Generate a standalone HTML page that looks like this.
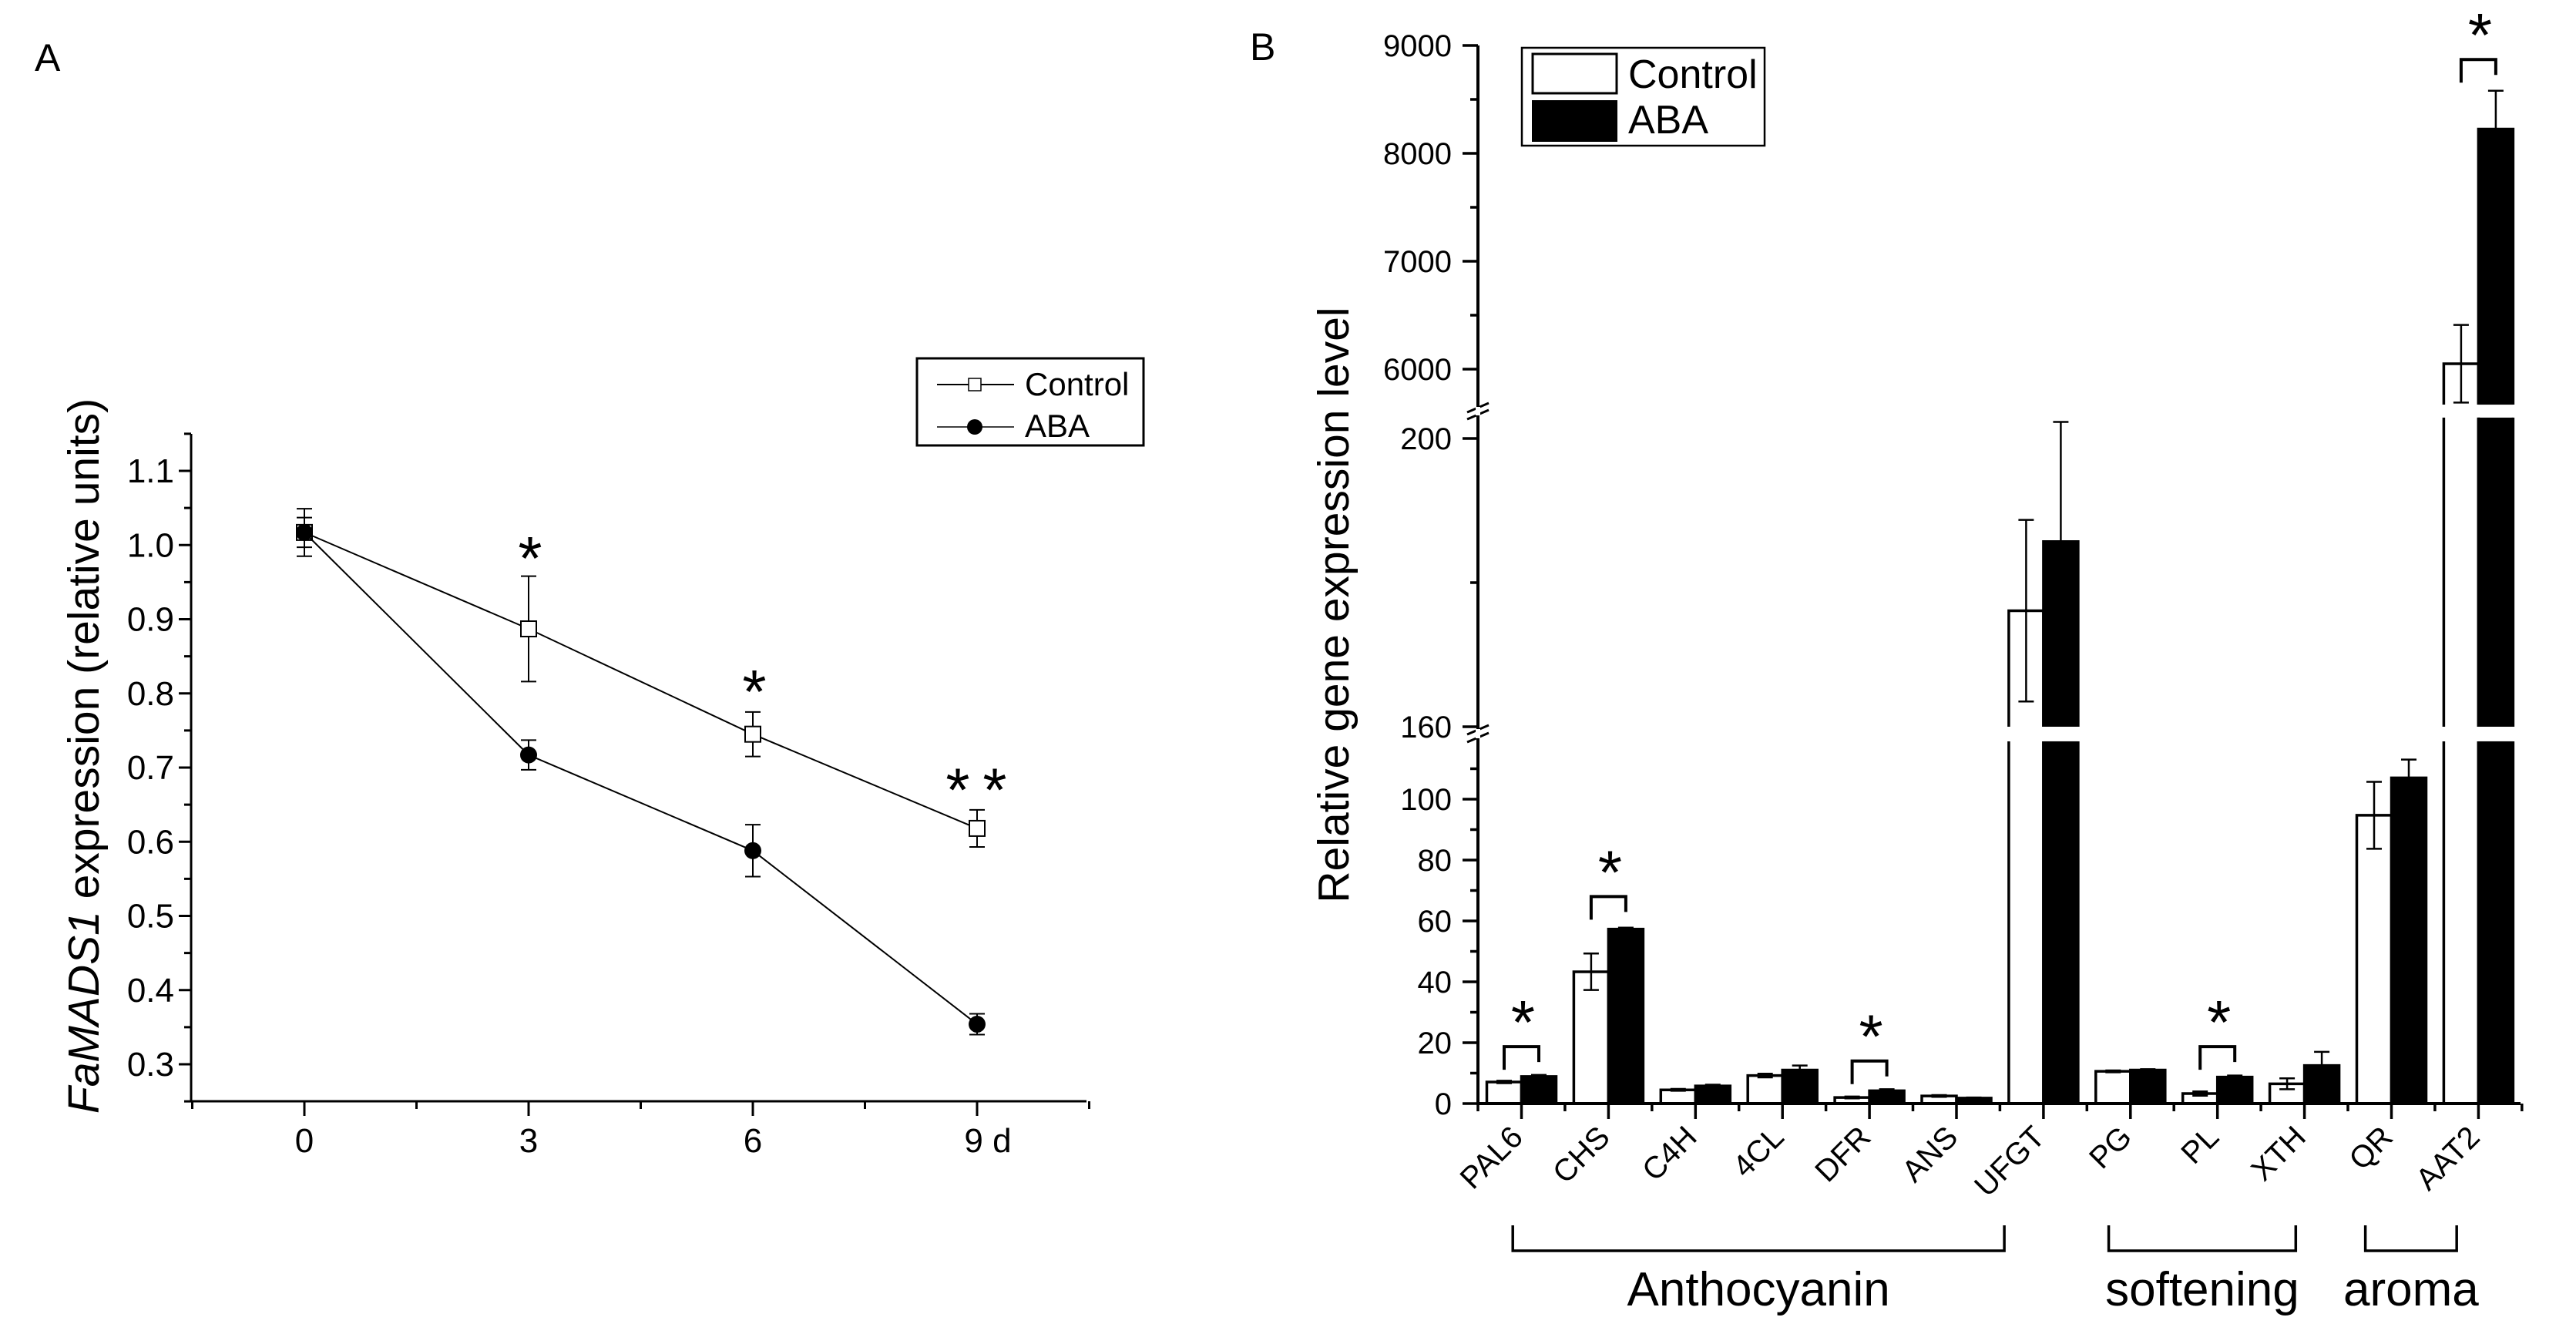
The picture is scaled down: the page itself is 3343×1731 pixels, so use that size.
<!DOCTYPE html>
<html><head><meta charset="utf-8"><style>
html,body{margin:0;padding:0;background:#fff;}
svg{display:block;font-family:"Liberation Sans",Arial,sans-serif;}
</style></head><body>
<svg id="fig" width="3343" height="1731" viewBox="0 0 3343 1731" xmlns="http://www.w3.org/2000/svg">
<rect width="3343" height="1731" fill="#fff"/>
<g id="pa"></g>
<g id="pb"></g>
</svg>
<script>
// ---------- Panel A data ----------
const daysA = [0, 3, 6, 9];
const dayLabelsA = ["0", "3", "6", "9 d"];
const controlA = [1.017, 0.887, 0.745, 0.618];
const controlErrA = [0.032, 0.071, 0.030, 0.025];
const abaA = [1.017, 0.717, 0.588, 0.354];
const abaErrA = [0.02, 0.02, 0.035, 0.014];
const yTicksA = [0.3, 0.4, 0.5, 0.6, 0.7, 0.8, 0.9, 1.0, 1.1];
const sigDaysA = [3, 6, 9];
const sigLevelA = [0.993, 0.813, 0.681];

// ---------- Panel B data ----------
const genesB = ["PAL6","CHS","C4H","4CL","DFR","ANS","UFGT","PG","PL","XTH","QR","AAT2"];
const controlB = [7.1, 43.3, 4.5, 9.2, 2.0, 2.5, 176.1, 10.6, 3.3, 6.5, 94.7, 6050];
const controlErrB = [0.4, 6, 0.3, 0.6, 0.3, 0.3, 12.6, 0.3, 0.7, 1.8, 11, 360];
const abaB = [8.9, 57.3, 5.8, 11.0, 4.2, 1.8, 185.7, 11.0, 8.7, 12.5, 107, 8225];
const abaErrB = [0.5, 0.5, 0.4, 1.5, 0.5, 0.2, 16.6, 0.3, 0.5, 4.5, 6, 355];
const sigGenesB = ["PAL6","CHS","DFR","PL","AAT2"];
const sigBracketB = [18.7, 68, 14, 18.7, 8870];
const yTicksLowB = [0, 20, 40, 60, 80, 100];
const yTicksMidB = [160, 200];
const yTicksHighB = [6000, 7000, 8000, 9000];
const groupNamesB = ["Anthocyanin", "softening", "aroma"];
const groupStartB = [-0.1, 6.75, 9.7];
const groupEndB = [5.55, 8.9, 10.75];

const NS = "http://www.w3.org/2000/svg";
function mk(parent, tag, attrs, text) {
  const e = document.createElementNS(NS, tag);
  for (const k in attrs) e.setAttribute(k, attrs[k]);
  if (text !== undefined) e.textContent = text;
  parent.appendChild(e);
  return e;
}
const pa = document.getElementById("pa");
const pb = document.getElementById("pb");

// ================= PANEL A =================
const xA = d => 395 + d * 97;
const yA = v => 1381 - (v - 0.3) * 962.5;
let t;
t = mk(pa, "text", {x: 45, y: 92, "font-size": 50});
t.textContent = "A";



let ax = mk(pa, "path", {d: `M248,563 V1429 H1410`, stroke: "#000", "stroke-width": 3, fill: "none"});


for (let v = 0.25; v <= 1.151; v += 0.05) {
  const major = Math.abs(Math.round(v * 10) - v * 10) < 0.01;
  const y = yA(v);
  const tk = mk(pa, "line", {x1: 248 - (major ? 16 : 9), x2: 248, y1: y, y2: y, stroke: "#000", "stroke-width": 3});
  
  
}
yTicksA.forEach(v => {
  const l = mk(pa, "text", {x: 226, y: yA(v) + 15, "font-size": 44, "text-anchor": "end", "font-family": "'Liberation Sans Narrow','Liberation Sans',sans-serif"}, v.toFixed(1));
  
  
});
[-1.5, 1.5, 4.5, 7.5, 10.5].forEach(d => {
  const tk = mk(pa, "line", {x1: xA(d), x2: xA(d), y1: 1429, y2: 1439, stroke: "#000", "stroke-width": 3});
  
  
});
daysA.forEach((d, i) => {
  const tk = mk(pa, "line", {x1: xA(d), x2: xA(d), y1: 1429, y2: 1448, stroke: "#000", "stroke-width": 3});
  
  
  const l = mk(pa, "text", {x: xA(d) + (i === 3 ? 14 : 0), y: 1495, "font-size": 44, "text-anchor": "middle", "font-family": "'Liberation Sans Narrow','Liberation Sans',sans-serif"}, dayLabelsA[i]);
  
  
});
t = mk(pa, "text", {transform: "translate(128,981) rotate(-90)", "font-size": 57, "text-anchor": "middle"});


mk(t, "tspan", {"font-style": "italic"}, "FaMADS1");
mk(t, "tspan", {}, " expression (relative units)");

function seriesA(vals, errs, name, filled) {
  const g = mk(pa, "g", {});
  
  
  const pts = daysA.map((d, i) => `${xA(d)},${yA(vals[i])}`).join(" ");
  const pl = mk(g, "polyline", {points: pts, fill: "none", stroke: "#000", "stroke-width": 2});
  
  
  daysA.forEach((d, i) => {
    const x = xA(d), yt = yA(vals[i] + errs[i]), yb = yA(vals[i] - errs[i]);
    const eb = mk(g, "path", {d: `M${x},${yt} V${yb} M${x - 10},${yt} H${x + 10} M${x - 10},${yb} H${x + 10}`, stroke: "#000", "stroke-width": 2, fill: "none"});
    
    
    let m;
    if (filled) m = mk(g, "circle", {cx: x, cy: yA(vals[i]), r: 11, fill: "#000"});
    else m = mk(g, "rect", {x: x - 10, y: yA(vals[i]) - 10, width: 20, height: 20, fill: "#fff", stroke: "#000", "stroke-width": 2});
    
    
  });
}
seriesA(controlA, controlErrA, "control-series", false);
seriesA(abaA, abaErrA, "aba-series", true);
sigDaysA.forEach((d, i) => {
  const xs = d === 9 ? [xA(d) - 25, xA(d) + 23] : [xA(d) + 2];
  xs.forEach(x => {
    const s = mk(pa, "text", {x: x, y: yA(sigLevelA[i]) + 38, "font-size": 80, "text-anchor": "middle"}, "*");
    
    
  });
});
const lgA = mk(pa, "g", {});


mk(lgA, "rect", {x: 1190, y: 465, width: 294, height: 113, fill: "#fff", stroke: "#000", "stroke-width": 3});
mk(lgA, "line", {x1: 1216, x2: 1316, y1: 499, y2: 499, stroke: "#000", "stroke-width": 2});
mk(lgA, "rect", {x: 1257, y: 491, width: 16, height: 16, fill: "#fff", stroke: "#000", "stroke-width": 1.5});
mk(lgA, "text", {x: 1330, y: 513, "font-size": 42}, "Control");
mk(lgA, "line", {x1: 1216, x2: 1316, y1: 554, y2: 554, stroke: "#000", "stroke-width": 1.5});
mk(lgA, "circle", {cx: 1265, cy: 554, r: 10, fill: "#000"});
mk(lgA, "text", {x: 1330, y: 567, "font-size": 42}, "ABA");

// ================= PANEL B =================
const X0 = 1918, STEP = 112.9, BW = 45, YAX = 1432;
const catX = i => X0 + 56.5 + i * STEP;
const segs = [
  {lo: 0, hi: 119, y0: 1432, k: 3.95, ref: 0},
  {lo: 160, hi: 202.9, y0: 943, k: 9.35, ref: 160},
  {lo: 5671, hi: 9000, y0: 479, k: 0.14, ref: 6000}
];
function segOf(v) { return v <= 140 ? 0 : (v <= 3000 ? 1 : 2); }
function yB(v) { const s = segs[segOf(v)]; return s.y0 - (v - s.ref) * s.k; }
function ySeg(s, v) { return s.y0 - (v - s.ref) * s.k; }

t = mk(pb, "text", {x: 1622, y: 78, "font-size": 50});
t.textContent = "B";



function barsB(vals, errs, offset, fill, name) {
  vals.forEach((v, i) => {
    const x = catX(i) + offset;
    segs.forEach(s => {
      if (v <= s.lo) return;
      const isTop = v <= s.hi;
      const top = ySeg(s, Math.min(v, s.hi));
      const bot = ySeg(s, s.lo);
      const r = mk(pb, "rect", {x: x, y: top, width: BW, height: Math.max(0, bot - top), fill: fill});
      
      
      const d = isTop ? `M${x},${bot} V${top} H${x + BW} V${bot}` : `M${x},${bot} V${top} M${x + BW},${top} V${bot}`;
      const o = mk(pb, "path", {d: d, fill: "none", stroke: "#000", "stroke-width": 3.5});
      
      
    });
    const cx = x + BW / 2;
    const yt = yB(v + errs[i]), yb = yB(v - errs[i]);
    const eb = mk(pb, "path", {d: `M${cx},${yt} V${yb} M${cx - 10},${yt} H${cx + 10} M${cx - 10},${yb} H${cx + 10}`, stroke: "#000", "stroke-width": 2.5, fill: "none"});
    
    
  });
}
barsB(controlB, controlErrB, -BW, "#fff", "control");
barsB(abaB, abaErrB, 0, "#000", "aba");
[[943, 961], [525, 542]].forEach(g => {
  const r = mk(pb, "rect", {x: X0 + 6, y: g[0] + 2, width: 1360, height: g[1] - g[0] - 4, fill: "#fff"});
  
  
});
ax = mk(pb, "path", {d: `M${X0},59 V${YAX} H3271`, stroke: "#000", "stroke-width": 4, fill: "none"});


[[943, 961], [525, 542]].forEach(g => {
  const m = mk(pb, "path", {d: `M${X0 - 14},${g[0] + 10} L${X0 + 14},${g[0] - 2} M${X0 - 14},${g[1] + 2} L${X0 + 14},${g[1] - 10}`, stroke: "#000", "stroke-width": 3});
  
  
  mk(pb, "rect", {x: X0 - 3, y: g[0] + 3, width: 6, height: g[1] - g[0] - 6, fill: "#fff"});
});
function yTick(v, major) {
  const y = yB(v);
  const tk = mk(pb, "line", {x1: X0 - (major ? 20 : 10), x2: X0, y1: y, y2: y, stroke: "#000", "stroke-width": 3.5});
  
  
  if (major) {
    const l = mk(pb, "text", {x: 1884, y: y + 14, "font-size": 40, "text-anchor": "end"}, String(v));
    
    
  }
}
yTicksLowB.forEach(v => yTick(v, true));
[10, 30, 50, 70, 90, 110].forEach(v => yTick(v, false));
yTicksMidB.forEach(v => yTick(v, true));
yTick(180, false);
yTicksHighB.forEach(v => yTick(v, true));
[6500, 7500, 8500].forEach(v => yTick(v, false));
genesB.forEach((g, i) => {
  const x = catX(i);
  const tk = mk(pb, "line", {x1: x, x2: x, y1: YAX, y2: YAX + 20, stroke: "#000", "stroke-width": 3.5});
  
  
  const l = mk(pb, "text", {transform: `translate(${x + 4},${YAX + 46}) rotate(-45)`, "font-size": 40, "text-anchor": "end"}, g);
  
  
});
for (let i = 0; i <= 12; i++) {
  const x = X0 + i * STEP;
  const tk = mk(pb, "line", {x1: x, x2: x, y1: YAX, y2: YAX + 10, stroke: "#000", "stroke-width": 3.5});
  
  
}
t = mk(pb, "text", {transform: "translate(1750,785) rotate(-90)", "font-size": 57, "text-anchor": "middle"}, "Relative gene expression level");


sigGenesB.forEach((g, j) => {
  const i = genesB.indexOf(g);
  const xl = catX(i) - BW / 2, xr = catX(i) + BW / 2;
  const yt = yB(sigBracketB[j]);
  const yl = Math.min(yB(controlB[i] + controlErrB[i]), yt + 40) - 10;
  const yr = Math.min(yB(abaB[i] + abaErrB[i]), yt + 30) - 10;
  const b = mk(pb, "path", {d: `M${xl},${Math.max(yl, yt + 22)} V${yt} H${xr} V${Math.max(yr, yt + 18)}`, stroke: "#000", "stroke-width": 4, fill: "none"});
  
  
  const s = mk(pb, "text", {x: catX(i) + 2, y: yt - 4, "font-size": 80, "text-anchor": "middle"}, "*");
  
  
});
groupNamesB.forEach((n, j) => {
  const xl = catX(groupStartB[j]), xr = catX(groupEndB[j]);
  const b = mk(pb, "path", {d: `M${xl},1590 V1623 H${xr} V1590`, stroke: "#000", "stroke-width": 3.5, fill: "none"});
  
  
  const l = mk(pb, "text", {x: (xl + xr) / 2, y: 1694, "font-size": 62, "text-anchor": "middle"}, n);
  
  
});
const lgB = mk(pb, "g", {});


mk(lgB, "rect", {x: 1975, y: 62, width: 315, height: 127, fill: "#fff", stroke: "#000", "stroke-width": 2.5});
mk(lgB, "rect", {x: 1989, y: 70, width: 109, height: 51, fill: "#fff", stroke: "#000", "stroke-width": 3});
mk(lgB, "rect", {x: 1988, y: 130, width: 111, height: 54, fill: "#000"});
mk(lgB, "text", {x: 2113, y: 114, "font-size": 52}, "Control");
mk(lgB, "text", {x: 2113, y: 173, "font-size": 52}, "ABA");
</script>
</body></html>
